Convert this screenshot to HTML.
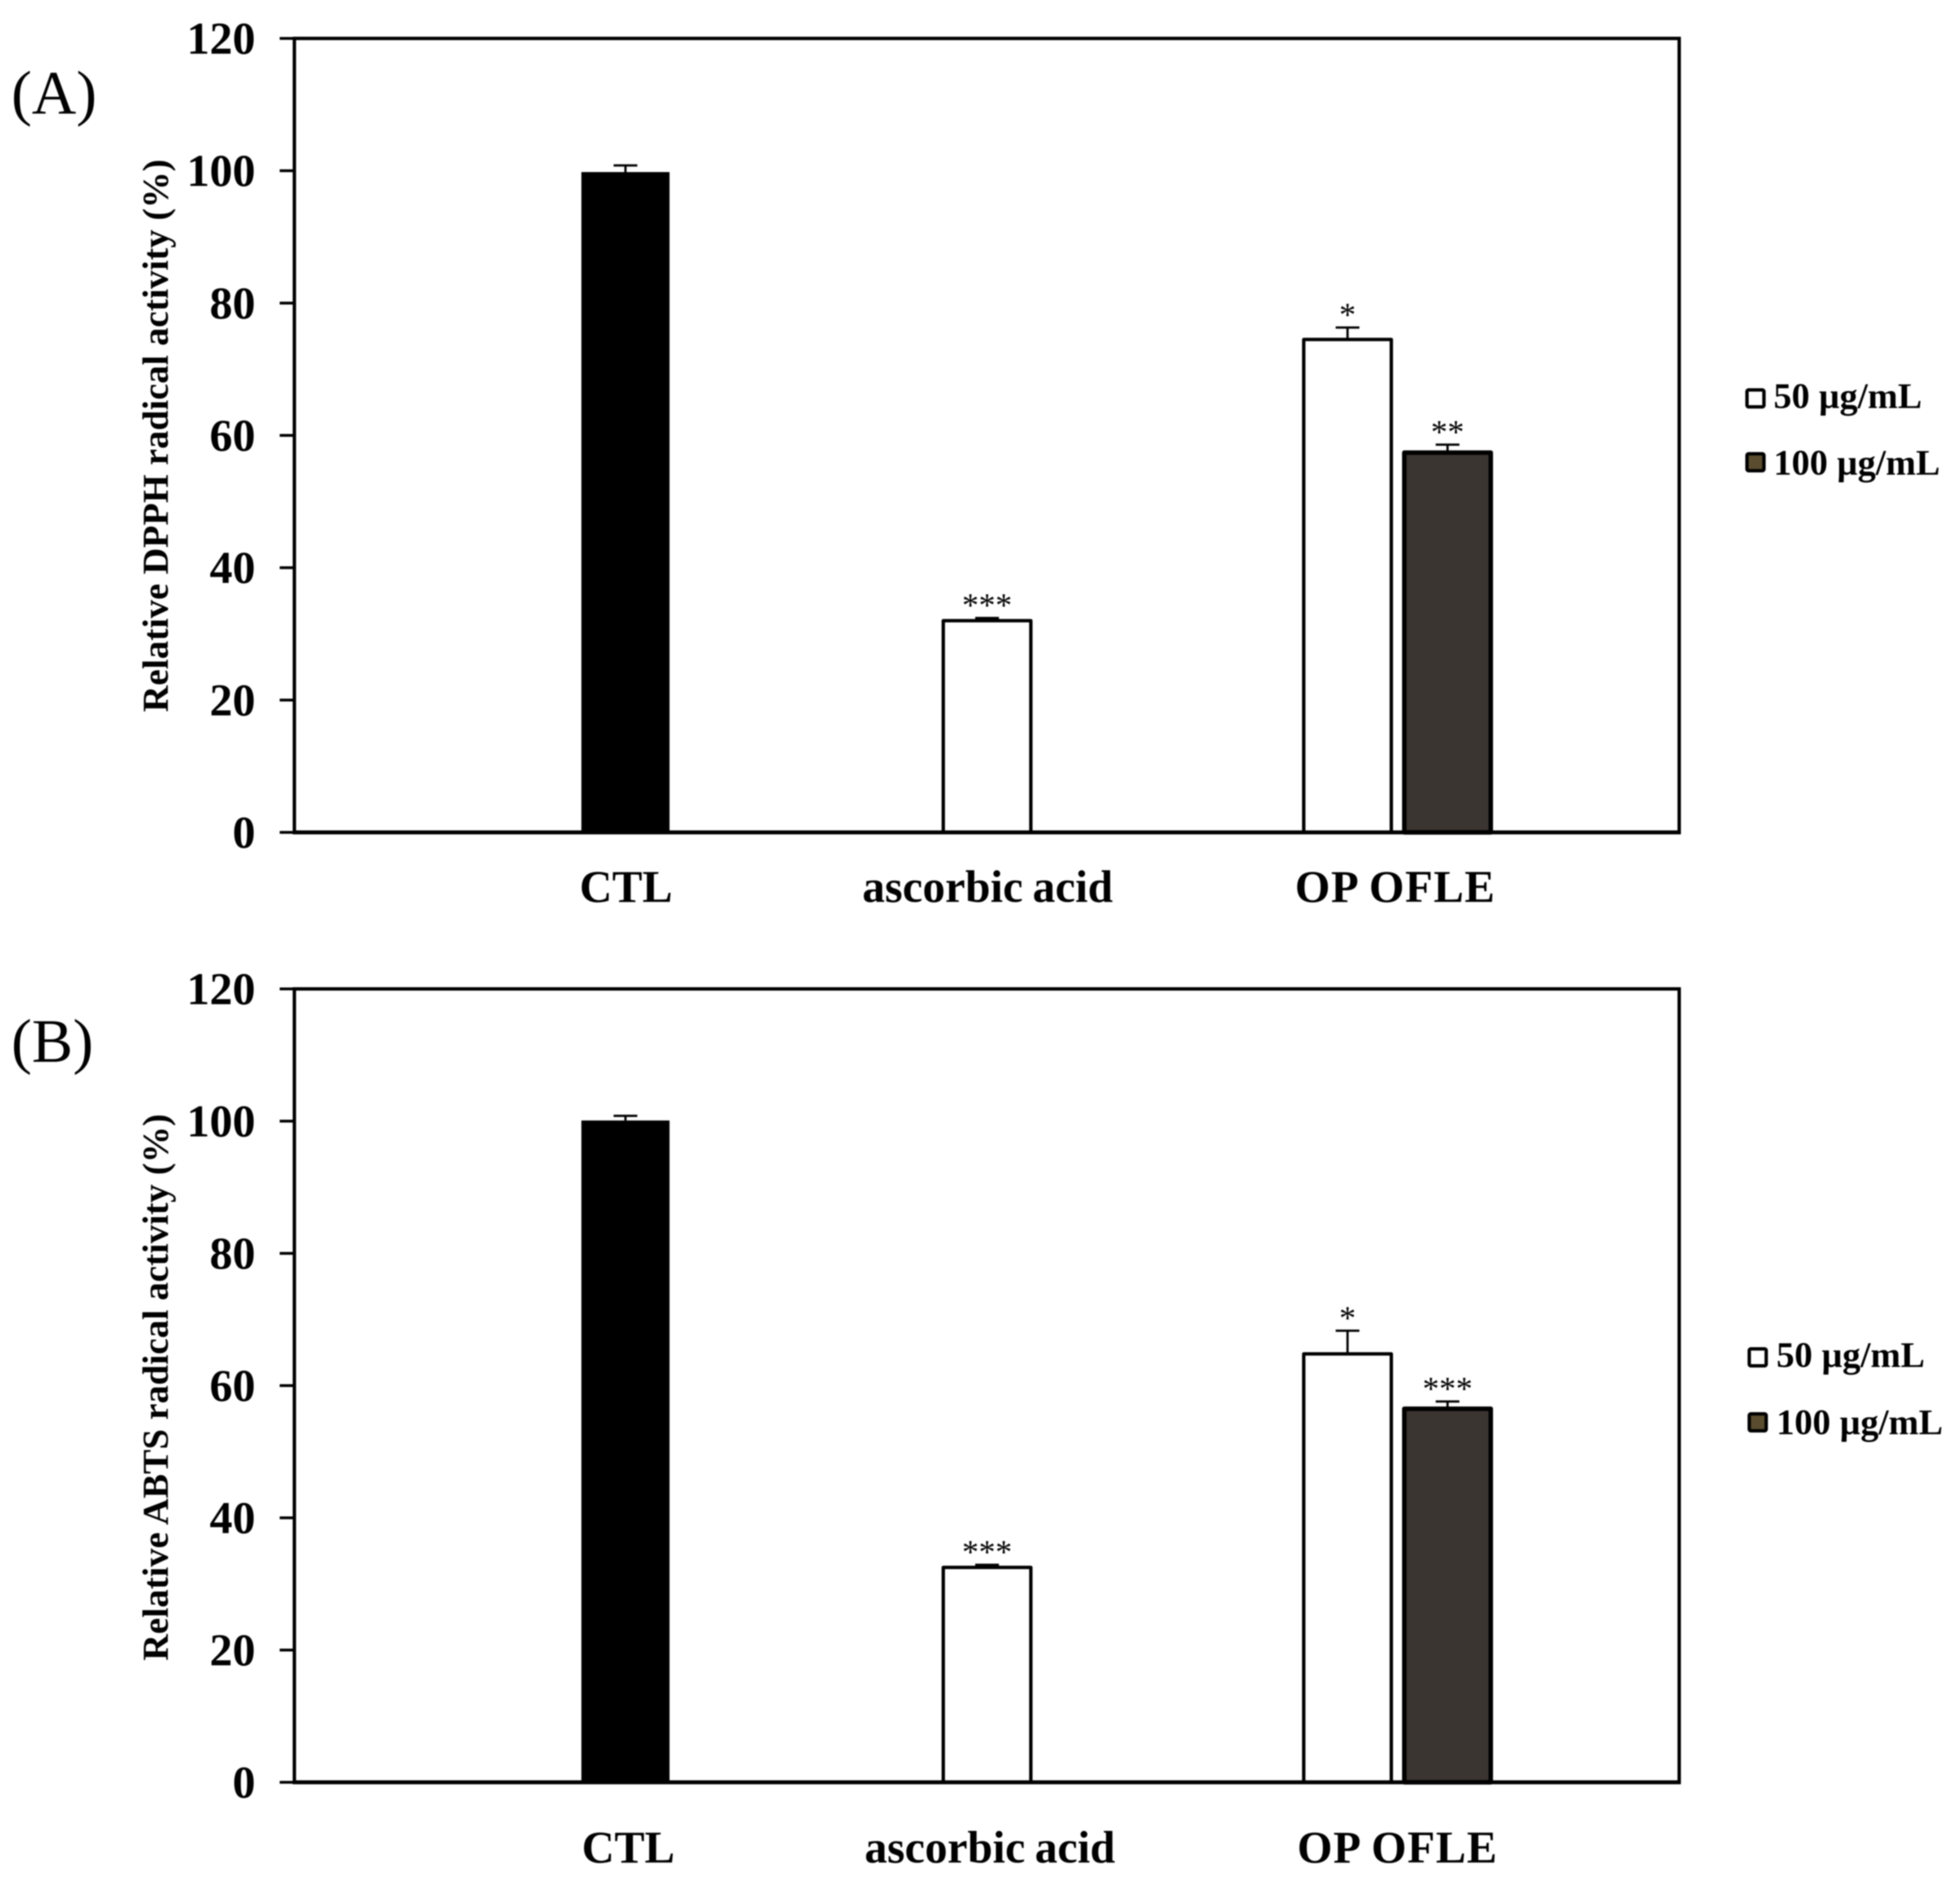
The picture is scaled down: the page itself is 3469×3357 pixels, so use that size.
<!DOCTYPE html>
<html lang="en">
<head>
<meta charset="utf-8">
<title>Relative DPPH and ABTS radical activity</title>
<style>
html,body{margin:0;padding:0;background:#fff;}
svg{display:block;filter:blur(1px);}
text{font-family:"Liberation Serif",serif;fill:#000;}
.b{font-weight:bold;}
</style>
</head>
<body>
<svg id="chart" xmlns="http://www.w3.org/2000/svg" width="3469" height="3357" viewBox="0 0 3469 3357">
  <rect x="0" y="0" width="3469" height="3357" fill="#ffffff"/>
  <text x="20" y="201" font-size="109">(A)</text>
  <text x="20" y="1879" font-size="109">(B)</text>
  <text class="b" font-size="65" text-anchor="middle" transform="translate(297 771) rotate(-90)">Relative DPPH radical activity (%)</text>
  <text class="b" font-size="65" text-anchor="middle" transform="translate(297 2455) rotate(-90)">Relative ABTS radical activity (%)</text>

  <g>
    <rect x="3092" y="690" width="30" height="30" rx="3" fill="#fff" stroke="#000" stroke-width="6"/>
    <text class="b" x="3139" y="722" font-size="64">50 µg/mL</text>
    <rect x="3092" y="803" width="30" height="30" rx="3" fill="#5a4d2f" stroke="#000" stroke-width="6"/>
    <text class="b" x="3139" y="840" font-size="64">100 µg/mL</text>
  </g>
  <g>
    <rect x="3096" y="2387" width="30" height="30" rx="3" fill="#fff" stroke="#000" stroke-width="6"/>
    <text class="b" x="3144" y="2419" font-size="64">50 µg/mL</text>
    <rect x="3096" y="2502" width="30" height="30" rx="3" fill="#5a4d2f" stroke="#000" stroke-width="6"/>
    <text class="b" x="3144" y="2538" font-size="64">100 µg/mL</text>
  </g>
</svg>
<script>
const categories = ["CTL", "ascorbic acid", "OP OFLE"];
const tickValues = [0, 20, 40, 60, 80, 100, 120];
const barCategory = [0, 1, 2, 2];
const barSeries = [0, 0, 0, 1];
const barKind = ["control", "open", "open", "dark"];
const dpphMeans = [99.8, 32.0, 74.5, 57.4];
const dpphErrors = [1.0, 0.4, 1.8, 1.2];
const dpphStars = ["", "***", "*", "**"];
const abtsMeans = [100.1, 32.5, 64.8, 56.5];
const abtsErrors = [0.7, 0.4, 3.5, 1.1];
const abtsStars = ["", "***", "*", "***"];

const SVGNS = "http://www.w3.org/2000/svg";
const root = document.getElementById("chart");
const LEFT = 521, RIGHT = 2972, YMAX = 120;

function make(tag, parent, attrs) {
  const el = document.createElementNS(SVGNS, tag);
  for (const k in attrs) el.setAttribute(k, attrs[k]);
  parent.appendChild(el);
  return el;
}

function drawPanel(prefix, top, bottom, means, errors, stars, labelShift, labelDrop) {
  const yScale = v => bottom - (v / YMAX) * (bottom - top);
  const xScale = (c, s) => 1107 + 640 * c + 177 * s - (c === 2 ? 2 : 0);

  const g = make("g", root, {});
  
  

  tickValues.forEach(function (t) {
    const tick = make("line", g, {x1: 495, x2: LEFT, y1: yScale(t), y2: yScale(t), stroke: "#000", "stroke-width": 5});
    
    
    const lab = make("text", g, {x: 452, y: yScale(t) + 27, "font-size": 81, "text-anchor": "end", "class": "b"});
    lab.textContent = String(t);
    
    
  });

  means.forEach(function (m, i) {
    const cx = xScale(barCategory[i], barSeries[i]);
    const kind = barKind[i];
    const outer = kind === "control" ? 156 : 161;
    const sw = kind === "control" ? 0 : (kind === "dark" ? 8 : 6);
    const fill = kind === "control" ? "#000" : (kind === "dark" ? "#3b3532" : "#fff");
    const yTop = yScale(m);
    const errTop = yScale(m + errors[i]);

    const stem = make("line", g, {x1: cx, x2: cx, y1: yTop, y2: errTop, stroke: "#000", "stroke-width": 4});
    
    
    const cap = make("line", g, {x1: cx - 21, x2: cx + 21, y1: errTop, y2: errTop, stroke: "#000", "stroke-width": 4});
    
    

    const bar = make("rect", g, {
      x: cx - outer / 2 + sw / 2,
      y: yTop,
      width: outer - sw,
      height: bottom - yTop,
      fill: fill,
      stroke: sw ? "#000" : "none",
      "stroke-width": sw,
      "stroke-linejoin": "round"
    });
    
    

    if (stars[i]) {
      const st = make("text", g, {x: cx, y: errTop - 3, "font-size": 59, "text-anchor": "middle"});
      st.textContent = stars[i];
      
      
    }
  });

  const frame = make("rect", g, {x: LEFT, y: top, width: RIGHT - LEFT, height: bottom - top, fill: "none", stroke: "#000", "stroke-width": 6});
  
  
  const base = make("line", g, {x1: LEFT - 3, x2: RIGHT + 3, y1: bottom, y2: bottom, stroke: "#000", "stroke-width": 7});
  
  

  categories.forEach(function (c, idx) {
    const members = barCategory.map(function (v, i) { return v === idx ? xScale(v, barSeries[i]) : null; }).filter(function (v) { return v !== null; });
    const centre = members.reduce(function (a, b) { return a + b; }, 0) / members.length;
    const lab = make("text", g, {x: centre + labelShift - (idx === 2 ? 5 : 0), y: bottom + labelDrop, "font-size": 80, "text-anchor": "middle", "class": "b"});
    if (idx === 2) lab.setAttribute("letter-spacing", "1.5");
    if (idx === 1) lab.setAttribute("word-spacing", "-3");
    lab.textContent = c;
    
    
  });
}

drawPanel("panel-a", 68, 1473, dpphMeans, dpphErrors, dpphStars, 1, 123);
drawPanel("panel-b", 1750, 3154, abtsMeans, abtsErrors, abtsStars, 5, 142);
</script>
</body>
</html>
